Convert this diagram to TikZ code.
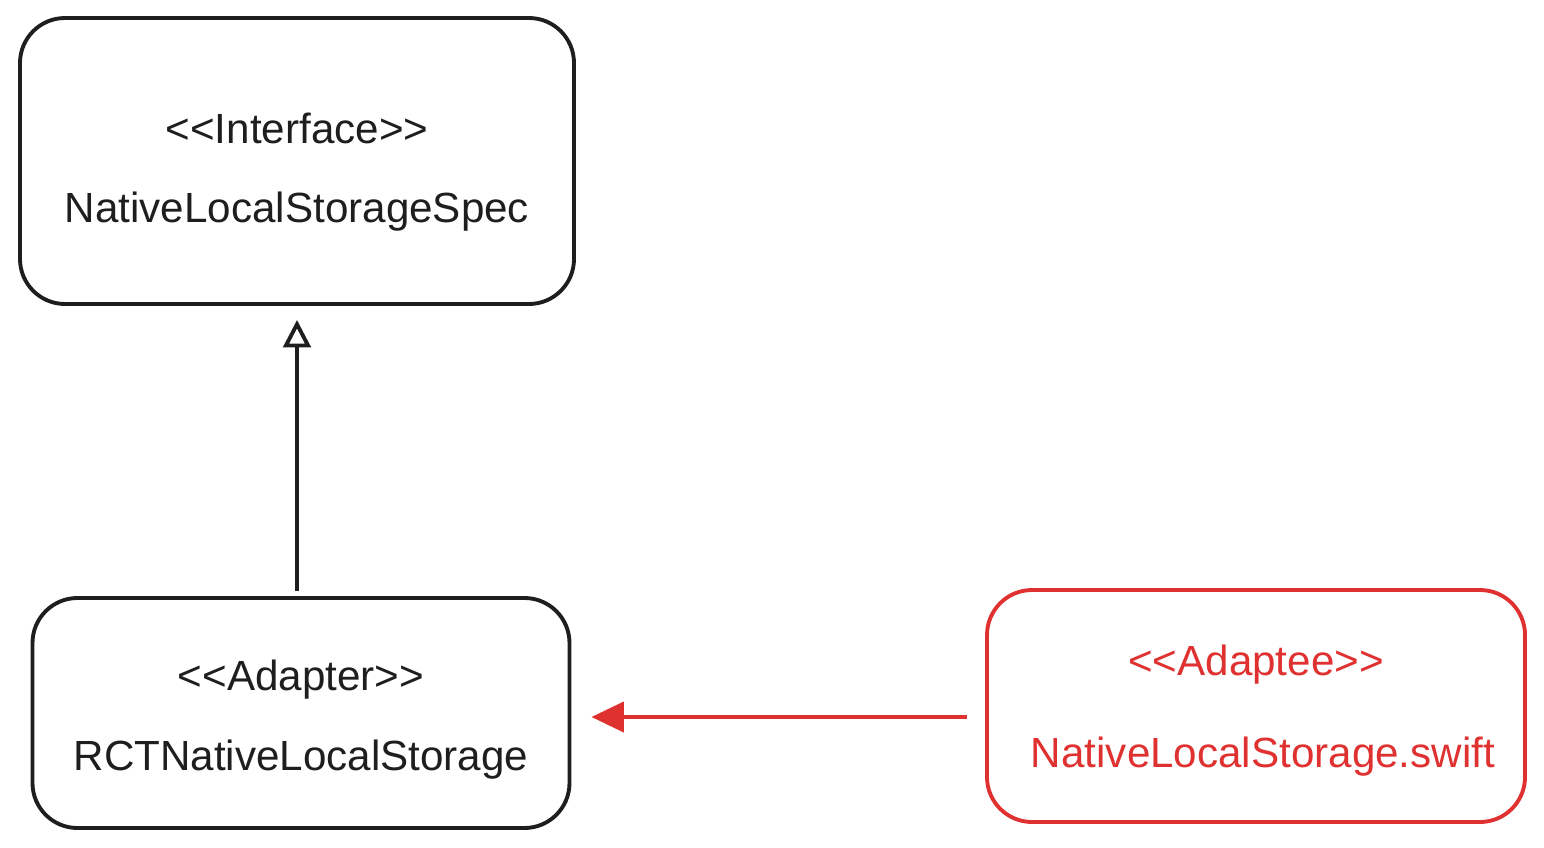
\documentclass[tikz,border=0pt]{standalone}
\usepackage{fontspec}
\setmainfont{Liberation Sans}[Ligatures=TeXOff]
\usetikzlibrary{arrows.meta}
\definecolor{sketchRed}{HTML}{E03131}
\definecolor{sketchInk}{HTML}{1E1E1E}
\tikzstyle{classBox} = [rectangle, rounded corners=0.9cm, draw=sketchInk, line width=2.2pt]
\tikzstyle{adapteeBox} = [classBox, draw=sketchRed]
\tikzstyle{boxText} = [text=sketchInk, font=\fontsize{24}{28}\selectfont, inner sep=0pt]
\tikzstyle{adapteeText} = [boxText, text=sketchRed]
\tikzstyle{realizes} = [line width=2.2pt, draw=sketchInk, -{Triangle[open, length=0.55cm, width=0.55cm]}]
\tikzstyle{delegates} = [line width=2.4pt, draw=sketchRed, -{Triangle[length=0.65cm, width=0.6cm, fill=sketchRed]}]

\begin{document}
\begin{tikzpicture} [node distance=2cm]
        \useasboundingbox (0,0) rectangle (30.88,-16.94);

        \node (spec) [classBox, minimum width=11.08cm, minimum height=5.72cm] at (5.94,-3.22) {};
        \node (adapter) [classBox, minimum width=10.74cm, minimum height=4.6cm, below of=spec, xshift=0.08cm, yshift=-9.04cm] {};
        \node (adaptee) [adapteeBox, minimum width=10.76cm, minimum height=4.64cm, right of=adapter, xshift=17.1cm, yshift=0.14cm] {};

        \node (specStereo) [boxText] at ([yshift=0.66cm]spec.center) {<<Interface>>};
        \node (specName) [boxText] at ([yshift=-1.02cm]spec.center) {NativeLocalStorageSpec};
        \node (adapterStereo) [boxText] at ([yshift=0.66cm]adapter.center) {<<Adapter>>};
        \node (adapterName) [boxText] at ([yshift=-0.94cm]adapter.center) {RCTNativeLocalStorage};
        \node (adapteeStereo) [adapteeText] at ([yshift=0.82cm]adaptee.center) {<<Adaptee>>};
        \node (adapteeName) [adapteeText] at ([xshift=0.14cm, yshift=-1.02cm]adaptee.center) {NativeLocalStorage.swift};

        \coordinate (delegStart) at ([yshift=-0.22cm]adaptee.west);

        \draw[realizes, shorten >=0.28cm, shorten <=0.1cm] (adapter.north -| spec.south) -- (spec.south);
        \draw[delegates, shorten >=0.4cm, shorten <=0.36cm] (delegStart) -- (delegStart -| adapter.east);

    \end{tikzpicture}
\end{document}
